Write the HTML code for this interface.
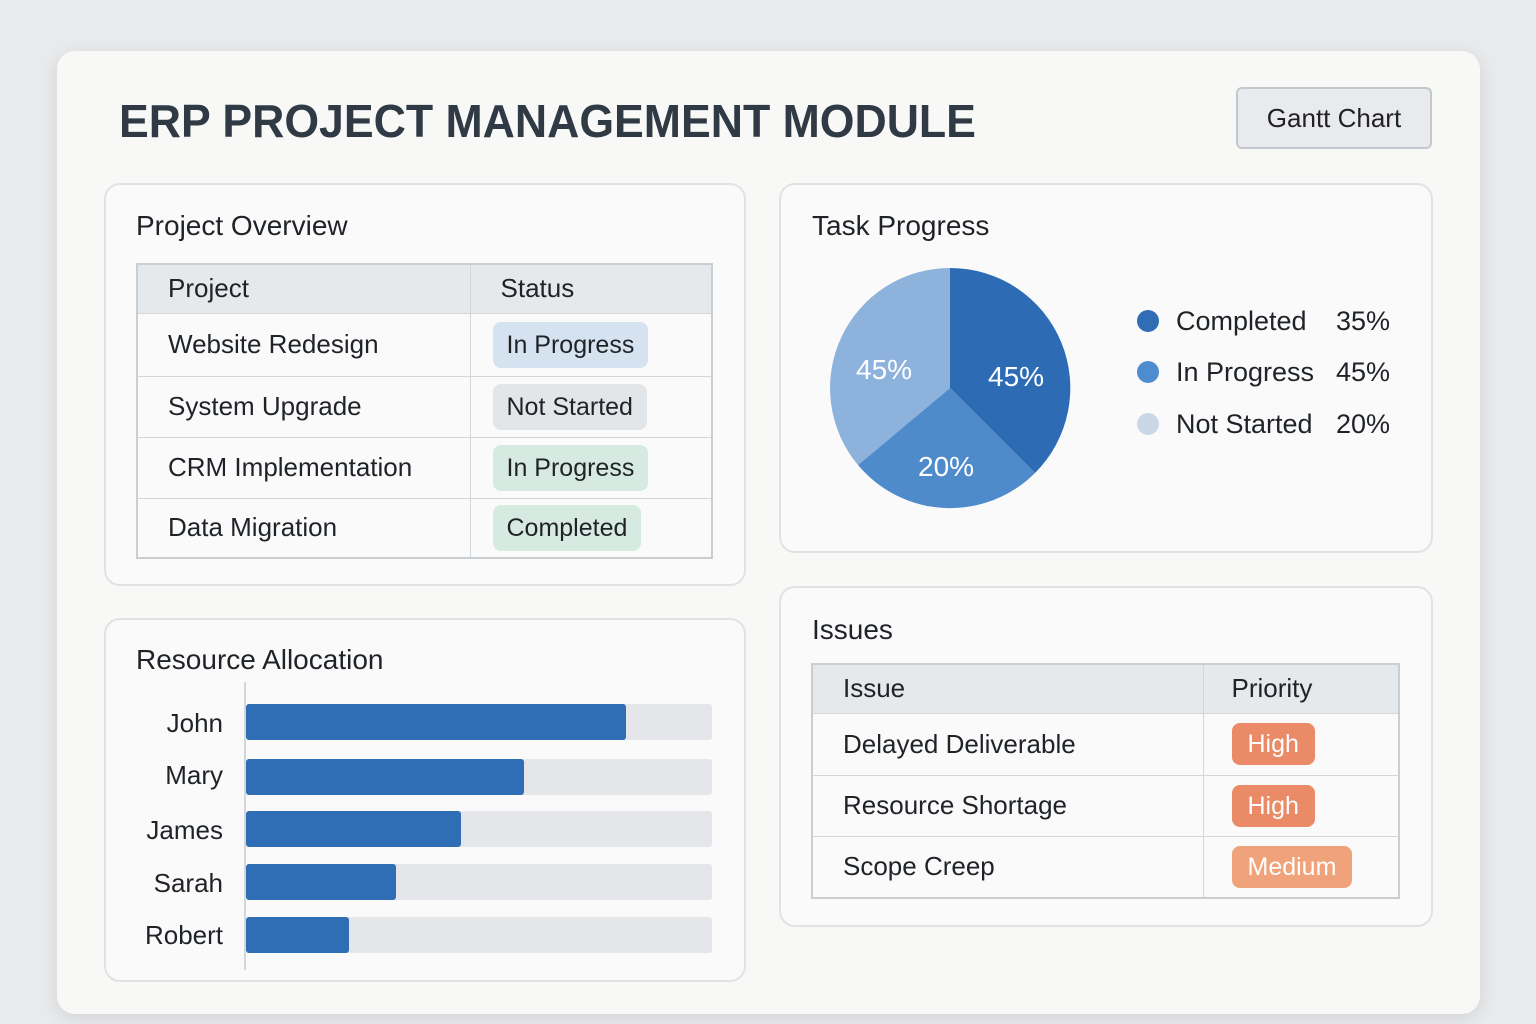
<!DOCTYPE html>
<html><head><style>
*{box-sizing:border-box;margin:0;padding:0}
body{width:1536px;height:1024px;background:#e9eaec;font-family:"Liberation Sans",sans-serif;color:#1f2328;position:relative;overflow:hidden}
.main{position:absolute;left:57px;top:51px;width:1423px;height:963px;background:#f8f8f7;border-radius:18px;box-shadow:0 4px 18px rgba(0,0,0,.10)}
h1{position:absolute;left:119px;top:94px;font-size:46px;font-weight:bold;color:#2f3a45;letter-spacing:0px;transform:scaleX(0.97);transform-origin:left}
.btn{position:absolute;left:1236px;top:87px;width:196px;height:62px;border:2px solid #c3c8ce;border-radius:6px;background:#e8eaed;font-size:26px;text-align:center;line-height:58px;color:#222}
.card{position:absolute;background:#fafafa;border:2px solid #e0e2e4;border-radius:16px}
.ct{position:absolute;font-size:28px;color:#1f2328}
table{position:absolute;border-collapse:collapse;border:2px solid #c9ced3;font-size:26px}
td,th{border:1px solid #d4d7da;text-align:left;font-weight:normal;padding-left:30px}
th{background:#e6e9ec}
.pill{display:inline-block;padding:0 14px;border-radius:8px;height:46px;line-height:46px;font-size:25px}
.lab{position:absolute;font-size:26px;text-align:right;width:100px}
.track{position:absolute;left:246px;width:466px;height:36px;background:#e4e6e9;border-radius:3px}
.bar{position:absolute;left:0;top:0;height:36px;background:#2f6db5;border-radius:3px}
.leg{position:absolute;font-size:27px}
.dot{position:absolute;width:22px;height:22px;border-radius:50%}
</style></head><body>
<div class="main"></div>
<h1>ERP PROJECT MANAGEMENT MODULE</h1>
<div class="btn">Gantt Chart</div>

<div class="card" style="left:104px;top:183px;width:642px;height:403px"></div>
<div class="ct" style="left:136px;top:210px">Project Overview</div>
<table style="left:136px;top:263px;width:577px">
<tr style="height:49px"><th style="width:333px">Project</th><th>Status</th></tr>
<tr style="height:63px"><td>Website Redesign</td><td style="padding-left:22px"><span class="pill" style="background:#d4e3ef">In Progress</span></td></tr>
<tr style="height:61px"><td>System Upgrade</td><td style="padding-left:22px"><span class="pill" style="background:#e3e6e9">Not Started</span></td></tr>
<tr style="height:61px"><td>CRM Implementation</td><td style="padding-left:22px"><span class="pill" style="background:#d6eae1">In Progress</span></td></tr>
<tr style="height:60px"><td>Data Migration</td><td style="padding-left:22px"><span class="pill" style="background:#d6eae1">Completed</span></td></tr>
</table>

<div class="card" style="left:104px;top:618px;width:642px;height:364px"></div>
<div class="ct" style="left:136px;top:644px">Resource Allocation</div>
<div style="position:absolute;left:244px;top:682px;width:2px;height:288px;background:#d4d7da"></div>
<div class="lab" style="left:123px;top:708px">John</div>
<div class="lab" style="left:123px;top:760px">Mary</div>
<div class="lab" style="left:123px;top:815px">James</div>
<div class="lab" style="left:123px;top:868px">Sarah</div>
<div class="lab" style="left:123px;top:920px">Robert</div>
<div class="track" style="top:704px"><div class="bar" style="width:380px"></div></div>
<div class="track" style="top:759px"><div class="bar" style="width:278px"></div></div>
<div class="track" style="top:811px"><div class="bar" style="width:215px"></div></div>
<div class="track" style="top:864px"><div class="bar" style="width:150px"></div></div>
<div class="track" style="top:917px"><div class="bar" style="width:103px"></div></div>

<div class="card" style="left:779px;top:183px;width:654px;height:370px"></div>
<div class="ct" style="left:812px;top:210px">Task Progress</div>
<svg style="position:absolute;left:0;top:0" width="1536" height="1024">
<path d="M950,388 L950,268 A120,120 0 0 1 1035,473 Z" fill="#2d6bb5"/>
<path d="M950,388 L1035,473 A120,120 0 0 1 858,465 Z" fill="#4f8bcb"/>
<path d="M950,388 L858,465 A120,120 0 0 1 950,268 Z" fill="#8db2dc"/>
<g font-family="Liberation Sans" font-size="28" fill="#fff">
<text x="856" y="379">45%</text><text x="988" y="386">45%</text><text x="918" y="476">20%</text></g>
</svg>
<div class="dot" style="left:1137px;top:310px;background:#2f6db5"></div>
<div class="dot" style="left:1137px;top:361px;background:#4d8ccf"></div>
<div class="dot" style="left:1137px;top:413px;background:#c8d6e6"></div>
<div class="leg" style="left:1176px;top:306px">Completed</div><div class="leg" style="left:1336px;top:306px">35%</div>
<div class="leg" style="left:1176px;top:357px">In Progress</div><div class="leg" style="left:1336px;top:357px">45%</div>
<div class="leg" style="left:1176px;top:409px">Not Started</div><div class="leg" style="left:1336px;top:409px">20%</div>

<div class="card" style="left:779px;top:586px;width:654px;height:341px"></div>
<div class="ct" style="left:812px;top:614px">Issues</div>
<table style="left:811px;top:663px;width:589px">
<tr style="height:49px"><th style="width:391px">Issue</th><th style="padding-left:28px">Priority</th></tr>
<tr style="height:62px"><td>Delayed Deliverable</td><td style="padding-left:28px"><span class="pill" style="background:#eb8a66;color:#fff;height:42px;line-height:42px;padding:0 16px">High</span></td></tr>
<tr style="height:61px"><td>Resource Shortage</td><td style="padding-left:28px"><span class="pill" style="background:#eb8a66;color:#fff;height:42px;line-height:42px;padding:0 16px">High</span></td></tr>
<tr style="height:62px"><td>Scope Creep</td><td style="padding-left:28px"><span class="pill" style="background:#f0a27a;color:#fff;height:42px;line-height:42px;padding:0 16px">Medium</span></td></tr>
</table>
</body></html>
